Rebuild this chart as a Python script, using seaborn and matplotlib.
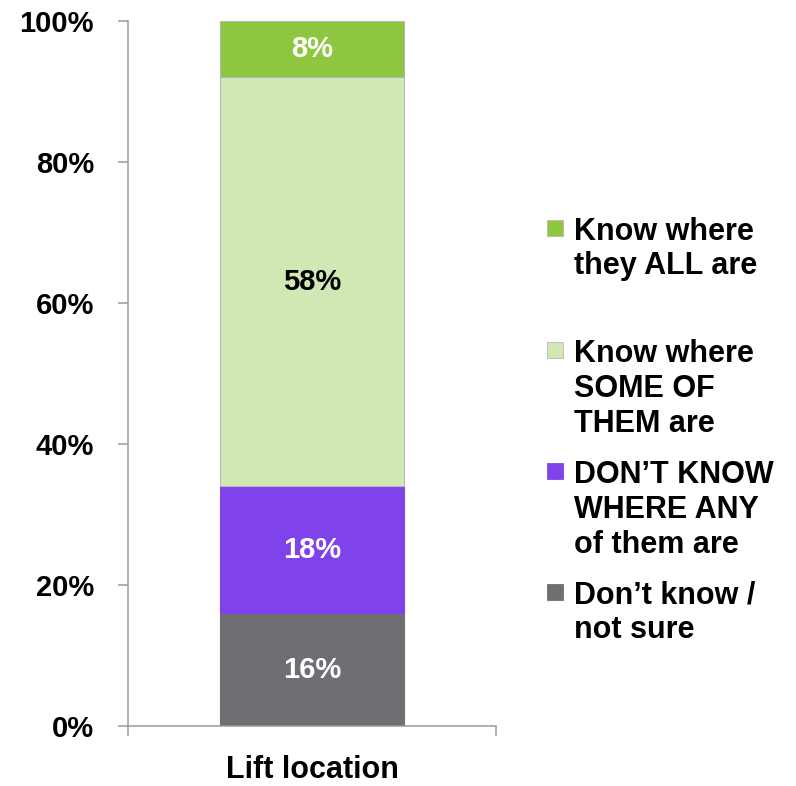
import numpy as np
import matplotlib.pyplot as plt
import matplotlib.patches as mpatches
import seaborn as sns

# --- data ---
category = ['Lift location']
responses = ['Don’t know /\nnot sure',
             'DON’T KNOW\nWHERE ANY\nof them are',
             'Know where\nSOME OF\nTHEM are',
             'Know where\nthey ALL are']
values = [16, 18, 58, 8]
yticks = [0, 20, 40, 60, 80, 100]

# --- style ---
colors = ['#6F6E73', '#8043EB', '#D2E8B4', '#8DC63F']
label_colors = ['white', 'white', 'black', 'white']
edge_colors = ['#6F6E73', '#8043EB', '#B8B8B8', '#B8B8B8']
axis_gray = '#9A9A9A'

sns.set_style('white')
plt.rcParams['font.family'] = ['Liberation Sans', 'DejaVu Sans']
plt.rcParams['font.weight'] = 'bold'

W, H = 796, 786
fig = plt.figure(figsize=(W / 100, H / 100), dpi=100)
ax = fig.add_axes([128 / W, 1 - 726 / H, (496 - 128) / W, (726 - 21) / H])

# stacked bar, one seaborn call per segment
bottoms = np.concatenate([[0], np.cumsum(values)[:-1]])
for val, bot, col, lc, ec in zip(values, bottoms, colors, label_colors, edge_colors):
    sns.barplot(x=category, y=[val], bottom=bot, color=col, saturation=1,
                width=0.5, edgecolor=ec, linewidth=0.8, ax=ax)
    ax.bar_label(ax.containers[-1], labels=[f'{val}%'], label_type='center',
                 color=lc, fontsize=21, fontweight='bold')

# axes
ax.set_ylim(0, 100)
ax.set_xlim(-0.5, 0.5)
ax.set_yticks(yticks)
ax.set_yticklabels([f'{t}%' for t in yticks])
ax.set_xticks([0])
ax.set_xticklabels(category)
ax.set_xticks([-0.5, 0.5], minor=True)
ax.set_xlabel('')
ax.set_ylabel('')

ax.tick_params(axis='y', left=True, length=7.5, width=1.1, color=axis_gray,
               pad=17, labelsize=21, labelcolor='black')
ax.tick_params(axis='x', which='major', bottom=True, length=0, pad=21,
               labelsize=22, labelcolor='black')
ax.tick_params(axis='x', which='minor', bottom=True, length=7.5, width=1.1,
               color=axis_gray)

for s in ['top', 'right']:
    ax.spines[s].set_visible(False)
for s in ['left', 'bottom']:
    ax.spines[s].set_color(axis_gray)
    ax.spines[s].set_linewidth(1.1)

# legend drawn by hand (markers aligned to first line, like the original)
legend_baselines = [[240, 274], [362, 397, 432], [483, 518, 553], [604, 638]]
for name, col, ec, bases in zip(responses[::-1], colors[::-1], edge_colors[::-1],
                                legend_baselines):
    b0 = bases[0]
    fig.add_artist(mpatches.Rectangle((547 / W, 1 - (b0 - 4) / H), 16 / W, 16 / H,
                                      transform=fig.transFigure, facecolor=col,
                                      edgecolor=ec, linewidth=0.6))
    for line, b in zip(name.split('\n'), bases):
        fig.text(574 / W, 1 - b / H, line, fontsize=22, fontweight='bold',
                 va='baseline', ha='left', color='black')

fig.savefig('out.png', dpi=100)
